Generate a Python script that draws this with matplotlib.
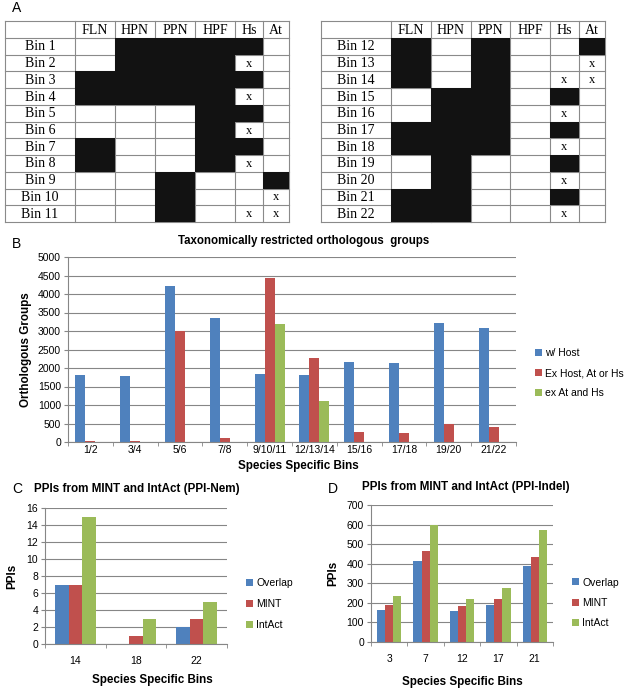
import numpy as np
import matplotlib.pyplot as plt
from matplotlib.patches import Rectangle

plt.rcParams['font.family'] = ['Liberation Sans', 'DejaVu Sans']

W, H = 626, 692

# ---- panel A data: '#' = black cell, 'x' = cross, '.' = empty
table_cols = ['FLN', 'HPN', 'PPN', 'HPF', 'Hs', 'At']
left_bins = ['Bin 1', 'Bin 2', 'Bin 3', 'Bin 4', 'Bin 5', 'Bin 6',
             'Bin 7', 'Bin 8', 'Bin 9', 'Bin 10', 'Bin 11']
left_rows = ['.####.', '.###x.', '#####.', '####x.', '...##.', '...#x.',
             '#..##.', '#..#x.', '..#..#', '..#..x', '..#.xx']
right_bins = ['Bin 12', 'Bin 13', 'Bin 14', 'Bin 15', 'Bin 16', 'Bin 17',
              'Bin 18', 'Bin 19', 'Bin 20', 'Bin 21', 'Bin 22']
right_rows = ['#.#..#', '#.#..x', '#.#.xx', '.##.#.', '.##.x.', '###.#.',
              '###.x.', '.#..#.', '.#..x.', '##..#.', '##..x.']

# ---- panel B data
b_bins = ['1/2', '3/4', '5/6', '7/8', '9/10/11', '12/13/14', '15/16', '17/18', '19/20', '21/22']
b_host = [1800, 1780, 4220, 3340, 1850, 1800, 2170, 2130, 3210, 3090]
b_ex_host = [20, 20, 3000, 120, 4430, 2280, 260, 250, 480, 410]
b_ex_at_hs = [0, 0, 0, 0, 3200, 1110, 0, 0, 0, 0]
b_labels = ['w/ Host', 'Ex Host, At or Hs', 'ex At and Hs']

# ---- panel C data
c_bins = ['14', '18', '22']
c_overlap = [7, 0, 2]
c_mint = [7, 1, 3]
c_intact = [15, 3, 5]

# ---- panel D data
d_bins = ['3', '7', '12', '17', '21']
d_overlap = [165, 412, 160, 190, 388]
d_mint = [190, 463, 185, 218, 435]
d_intact = [237, 600, 218, 275, 570]

ppi_labels = ['Overlap', 'MINT', 'IntAct']
colors = ['#4F81BD', '#C0504D', '#9BBB59']
grid_col = '#868686'

fig = plt.figure(figsize=(W / 100, H / 100), dpi=100)


def fx(x):
    return x / W


def fy(y):
    return 1 - y / H


def px_axes(x0, y0, x1, y1):
    return fig.add_axes([fx(x0), fy(y1), (x1 - x0) / W, (y1 - y0) / H])


# background axes in pixel units for the tables
tab = fig.add_axes([0, 0, 1, 1])
tab.set_xlim(0, W)
tab.set_ylim(H, 0)
tab.axis('off')


def draw_table(edges, top, head_bot, bottom, bins, rows):
    n = len(bins)
    rh = (bottom - head_bot) / n
    for x in edges:
        tab.plot([x, x], [top, bottom], color='#8a8a8a', lw=0.8, zorder=1)
    ys = [top] + [head_bot + k * rh for k in range(n + 1)]
    for y in ys:
        tab.plot([edges[0], edges[-1]], [y, y], color='#8a8a8a', lw=0.8, zorder=1)
    for j, name in enumerate(table_cols):
        tab.text((edges[j + 1] + edges[j + 2]) / 2, (top + head_bot) / 2 + 0.5, name,
                 family='Liberation Serif', fontsize=10, ha='center', va='center')
    for i, (b, row) in enumerate(zip(bins, rows)):
        y0 = head_bot + i * rh
        tab.text((edges[0] + edges[1]) / 2, y0 + rh / 2 + 0.5, b,
                 family='Liberation Serif', fontsize=10, ha='center', va='center')
        for j, c in enumerate(row):
            x0, x1 = edges[j + 1], edges[j + 2]
            if c == '#':
                tab.add_patch(Rectangle((x0, y0), x1 - x0, rh, color='#121212', lw=0, zorder=2))
            elif c == 'x':
                tab.text((x0 + x1) / 2, y0 + rh / 2 + 0.5, 'x', family='Liberation Serif',
                         fontsize=9, ha='center', va='center')


draw_table([5, 75, 115, 155, 195, 235, 263, 289], 21, 38, 222, left_bins, left_rows)
draw_table([321, 391, 431, 471, 510, 550, 579, 605], 21, 38, 222, right_bins, right_rows)


def style(ax, n, ymax, step, labels, size, xpad):
    ax.set_xlim(-0.5, n - 0.5)
    ax.set_ylim(0, ymax)
    ax.set_yticks(np.arange(0, ymax + 1, step))
    ax.set_xticks(np.arange(n))
    ax.set_xticklabels(labels)
    ax.set_xticks(np.arange(n + 1) - 0.5, minor=True)
    ax.yaxis.grid(True, color=grid_col, lw=0.8)
    ax.set_axisbelow(True)
    for s in ['top', 'right']:
        ax.spines[s].set_visible(False)
    for s in ['left', 'bottom']:
        ax.spines[s].set_color(grid_col)
        ax.spines[s].set_linewidth(0.8)
    ax.tick_params(axis='y', length=3, color=grid_col, labelsize=size, pad=2)
    ax.tick_params(axis='x', which='major', length=0, labelsize=size, pad=xpad)
    ax.tick_params(axis='x', which='minor', length=3, color=grid_col)


def bars(ax, series, labels):
    x = np.arange(len(series[0]))
    w = 1 / 4.5
    for k, vals in enumerate(series):
        ax.bar(x + (k - 1) * w, vals, w, color=colors[k], label=labels[k], lw=0)


def legend(ax, x, y, size, spacing):
    ax.legend(loc='center left', bbox_to_anchor=(fx(x), fy(y)), bbox_transform=fig.transFigure,
              frameon=False, fontsize=size, handlelength=0.65, handleheight=0.65,
              handletextpad=0.35, labelspacing=spacing, borderpad=0, borderaxespad=0)


# ---- panel B
axb = px_axes(68, 257, 516, 442)
bars(axb, [b_host, b_ex_host, b_ex_at_hs], b_labels)
style(axb, len(b_bins), 5000, 500, b_bins, 7.5, 2)
axb.set_ylabel('Orthologous Groups', fontsize=8.4, fontweight='bold', labelpad=4)
legend(axb, 535, 373, 7.5, 0.97)

# ---- panel C
axc = px_axes(45, 508, 227, 644)
bars(axc, [c_overlap, c_mint, c_intact], ppi_labels)
style(axc, len(c_bins), 16, 2, c_bins, 7.5, 9)
axc.set_ylabel('PPIs', fontsize=8.4, fontweight='bold', labelpad=6)
legend(axc, 246, 604, 7.5, 1.05)

# ---- panel D
axd = px_axes(371, 505, 553, 642)
bars(axd, [d_overlap, d_mint, d_intact], ppi_labels)
style(axd, len(d_bins), 700, 100, d_bins, 7.5, 9)
axd.set_ylabel('PPIs', fontsize=8.4, fontweight='bold', labelpad=5)
legend(axd, 572, 603, 7.5, 1.0)

# ---- panel letters, titles and x axis labels
fig.text(fx(12), fy(8), 'A', fontsize=10, ha='left', va='center')
fig.text(fx(12), fy(244), 'B', fontsize=10, ha='left', va='center')
fig.text(fx(12), fy(489), 'C', fontsize=10, ha='left', va='center')
fig.text(fx(328), fy(489), 'D', fontsize=10, ha='left', va='center')
fig.text(fx(304), fy(241), 'Taxonomically restricted orthologous  groups', fontsize=8.3,
         fontweight='bold', ha='center', va='center')
fig.text(fx(34), fy(489), 'PPIs from MINT and IntAct (PPI-Nem)', fontsize=8.4,
         fontweight='bold', ha='left', va='center')
fig.text(fx(362), fy(487), 'PPIs from MINT and IntAct (PPI-Indel)', fontsize=8.4,
         fontweight='bold', ha='left', va='center')
fig.text(fx(298), fy(466), 'Species Specific Bins', fontsize=8.4, fontweight='bold',
         ha='center', va='center')
fig.text(fx(152), fy(680), 'Species Specific Bins', fontsize=8.4, fontweight='bold',
         ha='center', va='center')
fig.text(fx(462), fy(682), 'Species Specific Bins', fontsize=8.4, fontweight='bold',
         ha='center', va='center')

fig.savefig('out.png', dpi=100)
